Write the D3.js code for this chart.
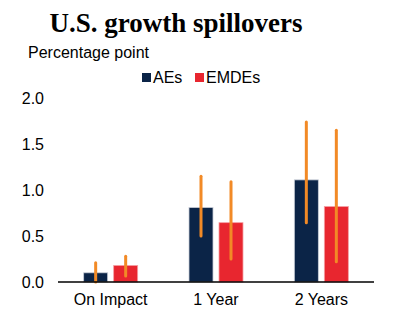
<!DOCTYPE html>
<html>
<head>
<meta charset="utf-8">
<script src="https://cdn.jsdelivr.net/npm/d3@7"></script>
<style>
  body { margin: 0; background: #fff; }
  text { font-family: "Liberation Sans", Arial, sans-serif; fill: #000; }
</style>
</head>
<body>
<svg id="chart" width="401" height="335"></svg>
<script>
const categories = ['On Impact', '1 Year', '2 Years'];
const seriesNames = ['AEs', 'EMDEs'];
const aesValues = [0.10, 0.81, 1.11];
const emdesValues = [0.18, 0.645, 0.82];
const aesLow = [0.0, 0.50, 0.645];
const aesHigh = [0.21, 1.15, 1.74];
const emdesLow = [0.065, 0.25, 0.22];
const emdesHigh = [0.28, 1.09, 1.65];
const yTicks = [0, 0.5, 1.0, 1.5, 2.0];

const colors = {AEs: '#0b2447', EMDEs: '#e8262f'};

const svg = d3.select('#chart');

const x0 = d3.scaleBand()
  .domain(categories)
  .range([58, 374])
  .padding(0);

const x1 = d3.scaleBand()
  .domain(seriesNames)
  .range([-27, 27])
  .paddingInner(0.2);

const y = d3.scaleLinear()
  .domain([0, 2])
  .range([282, 98]);

// title
svg.append('text')
  .attr('x', 176)
  .attr('y', 32)
  .attr('text-anchor', 'middle')
  .style('font-family', '"Liberation Serif", "Times New Roman", serif')
  .style('font-weight', 'bold')
  .style('font-size', '27px')
  .text('U.S. growth spillovers');

svg.append('text')
  .attr('x', 28)
  .attr('y', 58)
  .style('font-size', '16px')
  .text('Percentage point');

// legend
const legend = svg.append('g');
const legendX = [142, 195];
seriesNames.forEach((s, i) => {
  legend.append('rect')
    .attr('x', legendX[i])
    .attr('y', 73)
    .attr('width', 9)
    .attr('height', 9)
    .attr('fill', colors[s]);
  legend.append('text')
    .attr('x', legendX[i] + 11)
    .attr('y', 83)
    .style('font-size', '16px')
    .text(s);
});

// y axis labels
svg.append('g')
  .selectAll('text')
  .data(yTicks)
  .enter()
  .append('text')
  .attr('x', 44)
  .attr('y', d => y(d) + 6)
  .attr('text-anchor', 'end')
  .style('font-size', '16px')
  .text(d => d3.format('.1f')(d));

const rows = categories.map((c, i) => ({
  cat: c,
  bars: [
    {s: 'AEs', v: aesValues[i], lo: aesLow[i], hi: aesHigh[i]},
    {s: 'EMDEs', v: emdesValues[i], lo: emdesLow[i], hi: emdesHigh[i]}
  ]
}));

const groups = svg.selectAll('g.cat')
  .data(rows)
  .enter()
  .append('g')
  .attr('class', 'cat')
  .attr('transform', d => 'translate(' + (x0(d.cat) + x0.bandwidth() / 2) + ',0)');

groups.selectAll('rect')
  .data(d => d.bars)
  .enter()
  .append('rect')
  .attr('x', d => x1(d.s))
  .attr('y', d => y(d.v))
  .attr('width', x1.bandwidth())
  .attr('height', d => y(0) - y(d.v))
  .attr('fill', d => colors[d.s])
  .attr('stroke', d => d.s === 'AEs' ? '#c9ced8' : '#f4a0a4')
  .attr('stroke-width', 0.8);

groups.selectAll('line.err')
  .data(d => d.bars)
  .enter()
  .append('line')
  .attr('class', 'err')
  .attr('x1', d => x1(d.s) + x1.bandwidth() / 2)
  .attr('x2', d => x1(d.s) + x1.bandwidth() / 2)
  .attr('y1', d => y(d.lo))
  .attr('y2', d => y(d.hi))
  .attr('stroke', '#f28a26')
  .attr('stroke-width', 3)
  .attr('stroke-linecap', 'round');

// x axis
svg.append('line')
  .attr('x1', 58)
  .attr('x2', 374)
  .attr('y1', y(0))
  .attr('y2', y(0))
  .attr('stroke', '#000')
  .attr('stroke-width', 1.3);

svg.append('g')
  .selectAll('text')
  .data(categories)
  .enter()
  .append('text')
  .attr('x', d => x0(d) + x0.bandwidth() / 2)
  .attr('y', 305)
  .attr('text-anchor', 'middle')
  .style('font-size', '16px')
  .text(d => d);
</script>
</body>
</html>
